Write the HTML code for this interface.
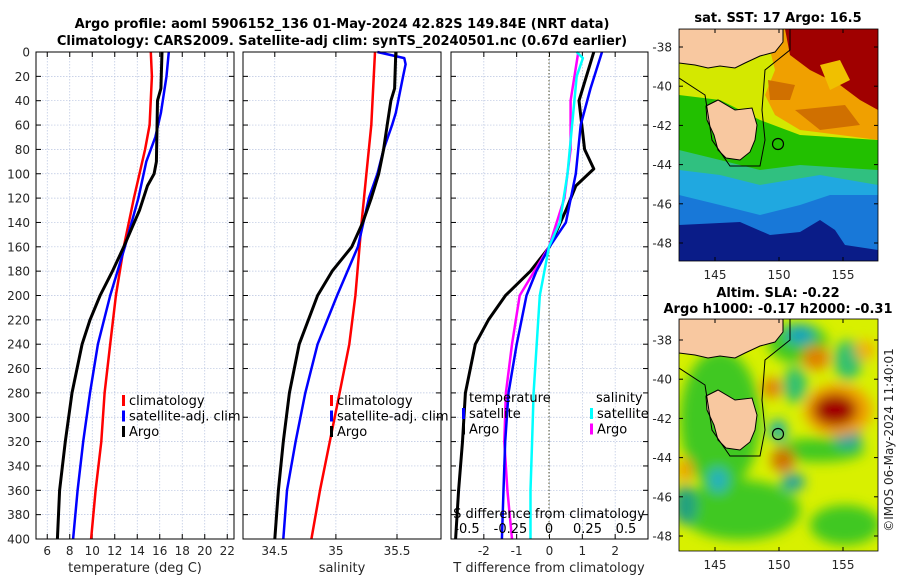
<!DOCTYPE html>
<html><head><meta charset="utf-8"><style>
body{margin:0;background:#fff;width:900px;height:580px;overflow:hidden}
svg{font-family:"DejaVu Sans","Liberation Sans",sans-serif}
</style></head><body>
<svg id="c" width="900" height="580" viewBox="0 0 900 580">
<defs>
<filter id="blur"><feGaussianBlur stdDeviation="6"/></filter>
<clipPath id="m1"><rect x="679" y="29" width="199" height="232"/></clipPath>
<clipPath id="m2"><rect x="679" y="319" width="199" height="232"/></clipPath>
</defs>
<g font-weight="bold" font-size="13" text-anchor="middle" fill="#000">
<text x="342" y="28">Argo profile: aoml 5906152_136 01-May-2024 42.82S 149.84E (NRT data)</text>
<text x="342" y="45">Climatology: CARS2009. Satellite-adj clim: synTS_20240501.nc (0.67d earlier)</text>
<text x="778" y="22">sat. SST: 17 Argo: 16.5</text>
<text x="778" y="297">Altim. SLA: -0.22</text>
<text x="778" y="313">Argo h1000: -0.17 h2000: -0.31</text>
</g>
<g id="plots"></g>
<!-- SST map -->
<g clip-path="url(#m1)">
<rect x="679" y="29" width="199" height="232" fill="#d4e800"/>
<polygon points="679,95 720,100 760,120 800,135 878,140 878,261 679,261" fill="#22c000"/>
<polygon points="679,150 720,160 760,170 800,165 878,170 878,261 679,261" fill="#30c080"/>
<polygon points="679,170 720,175 760,185 790,180 820,175 878,185 878,261 679,261" fill="#20a8e0"/>
<polygon points="679,195 720,205 760,215 800,205 830,195 878,195 878,261 679,261" fill="#1878d8"/>
<polygon points="679,225 740,222 770,235 800,232 820,220 835,230 845,245 878,250 878,261 679,261" fill="#0a1c88"/>
<polygon points="760,29 878,29 878,140 840,135 800,130 775,115 765,95 775,70 770,50" fill="#f0a000"/>
<polygon points="795,110 845,105 860,125 820,130" fill="#d07000"/>
<polygon points="768,80 795,85 790,100 770,100" fill="#d07000"/>
<polygon points="785,29 878,29 878,110 860,100 840,85 810,70 790,55" fill="#a00000"/>
<polygon points="820,65 840,60 850,80 830,90" fill="#f0c000"/>
<polygon points="679,29 783,29 783,42 775,52 760,56 745,63 735,68 720,66 708,68 695,65 679,63" fill="#f8c8a0" stroke="#000" stroke-width="1"/>
<polygon points="706,106 718,100 735,110 752,108 757,125 755,140 750,152 740,160 726,158 718,150 714,135 707,120" fill="#f8c8a0" stroke="#000" stroke-width="1"/>
<path d="M679,78 705,95 712,140 730,166 760,166 765,140 762,110 765,70 790,50 790,29" fill="none" stroke="#000" stroke-width="1"/>
<circle cx="778" cy="144" r="5.5" fill="none" stroke="#000" stroke-width="1.2"/>
</g>
<rect x="679" y="29" width="199" height="232" fill="none" stroke="#000" stroke-width="0.8"/>
<!-- SLA map -->
<g clip-path="url(#m2)">
<rect x="679" y="319" width="199" height="232" fill="#d8f000"/>
<g filter="url(#blur)">
<ellipse cx="720" cy="420" rx="40" ry="70" fill="#40c820"/>
<ellipse cx="740" cy="510" rx="60" ry="30" fill="#40c820"/>
<ellipse cx="820" cy="450" rx="45" ry="12" fill="#40c820"/>
<ellipse cx="845" cy="525" rx="35" ry="20" fill="#40c820"/>
<ellipse cx="798" cy="343" rx="30" ry="20" fill="#40c820"/>
<ellipse cx="800" cy="335" rx="14" ry="9" fill="#10a0c0"/>
<ellipse cx="848" cy="360" rx="14" ry="20" fill="#30c070"/>
<ellipse cx="795" cy="385" rx="12" ry="18" fill="#30c070"/>
<ellipse cx="778" cy="430" rx="9" ry="11" fill="#20b0a0"/>
<ellipse cx="718" cy="480" rx="10" ry="12" fill="#20b0c0"/>
<ellipse cx="793" cy="482" rx="12" ry="9" fill="#20a0a0"/>
<ellipse cx="848" cy="438" rx="14" ry="10" fill="#20a0a0"/>
<ellipse cx="685" cy="505" rx="12" ry="20" fill="#20a080"/>
<ellipse cx="838" cy="410" rx="34" ry="26" fill="#f0a000"/>
<ellipse cx="835" cy="410" rx="22" ry="16" fill="#a00000"/>
<ellipse cx="816" cy="358" rx="14" ry="12" fill="#e08000"/>
<ellipse cx="772" cy="388" rx="10" ry="10" fill="#e08000"/>
<ellipse cx="783" cy="460" rx="12" ry="12" fill="#d07000"/>
<ellipse cx="685" cy="470" rx="8" ry="12" fill="#f0a000"/>
<ellipse cx="865" cy="350" rx="10" ry="10" fill="#f0b000"/>
</g>
<polygon points="679,319 783,319 783,332 775,342 760,346 745,353 735,358 720,356 708,358 695,355 679,353" fill="#f8c8a0" stroke="#000" stroke-width="1"/>
<polygon points="706,396 718,390 735,400 752,398 757,415 755,430 750,442 740,450 726,448 718,440 714,425 707,410" fill="#f8c8a0" stroke="#000" stroke-width="1"/>
<path d="M679,368 705,385 712,430 730,456 760,456 765,430 762,400 765,360 790,340 790,319" fill="none" stroke="#000" stroke-width="1"/>
<circle cx="778" cy="434" r="5.5" fill="none" stroke="#000" stroke-width="1.2"/>
</g>
<rect x="679" y="319" width="199" height="232" fill="none" stroke="#000" stroke-width="0.8"/>
<g id="mapaxes" font-size="12" fill="#262626"></g>
<text transform="translate(893,440) rotate(-90)" text-anchor="middle" font-size="12" fill="#262626">©IMOS 06-May-2024 11:40:01</text>
</svg>
<script>
const depths=[0,20,40,60,80,100,120,140,160,180,200,240,280,320,360,400];
const depthTicks=[0,20,40,60,80,100,120,140,160,180,200,220,240,260,280,300,320,340,360,380,400];
const tClimD=[0,20,60,80,120,160,200,240,280,320,360,400];
const tClim=[15.2,15.3,15.1,14.7,13.7,12.8,12.1,11.6,11.1,10.8,10.3,9.9];
const tSatD=[0,20,50,70,90,120,160,200,240,280,320,360,400];
const tSat=[16.8,16.6,16.1,15.6,14.8,14.1,12.9,11.6,10.5,9.8,9.2,8.7,8.3];
const tArgoD=[0,30,40,90,100,110,130,160,180,200,220,240,280,320,360,400];
const tArgo=[16.2,16.1,15.8,15.7,15.5,14.9,14.2,12.8,11.8,10.7,9.8,9.1,8.2,7.6,7.1,6.9];
const sClimD=[0,60,100,140,200,240,280,320,360,400];
const sClim=[35.32,35.29,35.25,35.21,35.16,35.11,35.03,34.95,34.87,34.80];
const sSatD=[0,5,10,20,50,60,80,100,120,160,200,240,280,320,360,400];
const sSat=[35.34,35.56,35.57,35.55,35.49,35.46,35.39,35.34,35.27,35.18,35.01,34.85,34.75,34.67,34.60,34.57];
const sArgoD=[0,30,40,60,80,100,120,140,160,180,200,240,280,320,360,400];
const sArgo=[35.49,35.48,35.45,35.42,35.39,35.35,35.29,35.22,35.13,34.97,34.85,34.70,34.62,34.57,34.53,34.50];
const dTSatD=[0,30,60,100,140,160,180,200,240,280,320,360,400];
const dTSat=[1.6,1.25,0.95,0.8,0.5,0,-0.4,-0.7,-1.0,-1.25,-1.35,-1.4,-1.45];
const dTArgoD=[0,40,80,96,110,130,160,180,200,220,240,280,320,360,400];
const dTArgo=[1.35,0.9,1.07,1.35,0.8,0.5,0,-0.58,-1.34,-1.86,-2.26,-2.56,-2.65,-2.77,-2.86];
const dSSatD=[0,5,20,60,100,140,160,200,240,280,320,360,400];
const dSSat=[0.18,0.22,0.18,0.15,0.12,0.07,0,-0.06,-0.08,-0.1,-0.11,-0.12,-0.12];
const dSArgoD=[0,40,80,120,160,200,240,280,320,360,400];
const dSArgo=[0.19,0.14,0.14,0.10,0,-0.19,-0.24,-0.28,-0.29,-0.27,-0.24];
const tTicks=[6,8,10,12,14,16,18,20,22];
const sTicks=[34.5,35,35.5];
const dTTicks=[-2,-1,0,1,2];
const dSTicks=[-0.5,-0.25,0,0.25,0.5];
const dSLabels=['-0.5','-0.25','0','0.25','0.5'];
const latTicks=[-38,-40,-42,-44,-46,-48];
const lonTicks=[145,150,155];

const NS='http://www.w3.org/2000/svg';
const root=document.getElementById('plots');
function el(tag,attrs,parent,text){const e=document.createElementNS(NS,tag);for(const k in attrs)e.setAttribute(k,attrs[k]);if(text!==undefined)e.textContent=text;(parent||root).appendChild(e);return e;}
const Y0=52,Y1=539;
const yS=d=>Y0+(d/400)*(Y1-Y0);
function panel(name,x0,x1,vmin,vmax){return {name,x0,x1,xs:v=>x0+(v-vmin)/(vmax-vmin)*(x1-x0)};}
const P1=panel('temperature',36,234,5.0,22.6);
const P2=panel('salinity',243,441,34.24,35.86);
const P3=panel('difference',451,648,-3,3);
const sDiffX=v=>549+v*154;
function frame(p,ticks,labels){
  const g=el('g',{});
  
  
  ticks.forEach(t=>{const x=p.xs(t);const l=el('line',{x1:x,x2:x,y1:Y0,y2:Y1,stroke:'#b8c4e0','stroke-width':0.7,'stroke-dasharray':'1.5,1.5'},g);
    
    el('line',{x1:x,x2:x,y1:Y1,y2:Y1-5,stroke:'#000'},g);el('line',{x1:x,x2:x,y1:Y0,y2:Y0+5,stroke:'#000'},g);});
  depthTicks.forEach(d=>{const y=yS(d);el('line',{x1:p.x0,x2:p.x1,y1:y,y2:y,stroke:'#b8c4e0','stroke-width':0.7,'stroke-dasharray':'1.5,1.5'},g);
    el('line',{x1:p.x0,x2:p.x0+5,y1:y,y2:y,stroke:'#000'},g);el('line',{x1:p.x1,x2:p.x1-5,y1:y,y2:y,stroke:'#000'},g);});
  labels.forEach((lb,i)=>{const t=el('text',{x:p.xs(ticks[i]),y:555,'font-size':12,fill:'#262626','text-anchor':'middle'},g,lb);
    });
  return g;
}
function line(g,p,xs,ds,vals,col,w,name){
  const pts=vals.map((v,i)=>xs(v).toFixed(1)+','+yS(ds[i]).toFixed(1)).join(' ');
  const l=el('polyline',{points:pts,fill:'none',stroke:col,'stroke-width':w,'stroke-linejoin':'round'},g);
  
  
}
function legend(g,x,y,items){items.forEach((it,i)=>{const yy=y+i*15.5;
  el('rect',{x:x,y:yy-10,width:3,height:11,fill:it[1]},g);
  const t=el('text',{x:x+7,y:yy,'font-size':13,fill:'#000'},g,it[0]);
  });}
// panel 1
let g=frame(P1,tTicks,tTicks.map(String));
depthTicks.forEach(d=>{const t=el('text',{x:30,y:yS(d)+4.5,'font-size':12,fill:'#262626','text-anchor':'end'},g,String(d));
  });
line(g,P1,P1.xs,tClimD,tClim,'#ff0000',2.5,'temp-climatology-line');
line(g,P1,P1.xs,tSatD,tSat,'#0000ff',2.5,'temp-satellite-line');
line(g,P1,P1.xs,tArgoD,tArgo,'#000',3,'temp-argo-line');
legend(g,122,405,[['climatology','#f00'],['satellite-adj. clim','#00f'],['Argo','#000']]);
el('rect',{x:P1.x0,y:Y0,width:P1.x1-P1.x0,height:Y1-Y0,fill:'none',stroke:'#000','stroke-width':1},g);
let t=el('text',{x:135,y:572,'font-size':13,fill:'#262626','text-anchor':'middle'},g,'temperature (deg C)');

// panel 2
g=frame(P2,sTicks,['34.5','35','35.5']);
line(g,P2,P2.xs,sClimD,sClim,'#ff0000',2.5,'sal-climatology-line');
line(g,P2,P2.xs,sSatD,sSat,'#0000ff',2.5,'sal-satellite-line');
line(g,P2,P2.xs,sArgoD,sArgo,'#000',3,'sal-argo-line');
legend(g,330,405,[['climatology','#f00'],['satellite-adj. clim','#00f'],['Argo','#000']]);
el('rect',{x:P2.x0,y:Y0,width:P2.x1-P2.x0,height:Y1-Y0,fill:'none',stroke:'#000','stroke-width':1},g);
t=el('text',{x:342,y:572,'font-size':13,fill:'#262626','text-anchor':'middle'},g,'salinity');

// panel 3
g=frame(P3,dTTicks,dTTicks.map(String));
el('line',{x1:549,x2:549,y1:Y0,y2:Y1,stroke:'#555533','stroke-width':1,'stroke-dasharray':'1.5,2'},g);
line(g,P3,P3.xs,dTArgoD,dTArgo,'#000',3,'tdiff-argo-line');
line(g,P3,sDiffX,dSArgoD,dSArgo,'#ff00ff',2.5,'sdiff-argo-line');
line(g,P3,P3.xs,dTSatD,dTSat,'#0000ff',2.5,'tdiff-satellite-line');
line(g,P3,sDiffX,dSSatD,dSSat,'#00ffff',2.5,'sdiff-satellite-line');
legend(g,462,418,[['satellite','#00f'],['Argo','#000']]);
t=el('text',{x:469,y:402,'font-size':13,fill:'#000'},g,'temperature');

legend(g,590,418,[['satellite','#0ff'],['Argo','#f0f']]);
t=el('text',{x:596,y:402,'font-size':13,fill:'#000'},g,'salinity');

t=el('text',{x:549,y:518,'font-size':13,fill:'#000','text-anchor':'middle'},g,'S difference from climatology');

dSTicks.forEach((v,i)=>{const tt=el('text',{x:sDiffX(v)+(i==0?-5:0),y:533,'font-size':13,fill:'#000','text-anchor':'middle'},g,dSLabels[i]);
  });
el('rect',{x:P3.x0,y:Y0,width:P3.x1-P3.x0,height:Y1-Y0,fill:'none',stroke:'#000','stroke-width':1},g);
t=el('text',{x:549,y:572,'font-size':13,fill:'#262626','text-anchor':'middle'},g,'T difference from climatology');

// map axes
const ma=document.getElementById('mapaxes');
[[29,47],[319,340]].forEach(([top,y38])=>{
  latTicks.forEach(la=>{const y=y38+(-38-la)*19.6;
    el('line',{x1:679,x2:683,y1:y,y2:y,stroke:'#000'},ma);el('line',{x1:878,x2:874,y1:y,y2:y,stroke:'#000'},ma);
    const tt=el('text',{x:672,y:y+4.5,'text-anchor':'end'},ma,String(la));
    });
  lonTicks.forEach(lo=>{const x=715+(lo-145)*12.8;
    el('line',{x1:x,x2:x,y1:top+232,y2:top+228,stroke:'#000'},ma);el('line',{x1:x,x2:x,y1:top,y2:top+4,stroke:'#000'},ma);
    const tt=el('text',{x:x,y:top+250,'text-anchor':'middle'},ma,String(lo));
    });
});
</script>
</body></html>
